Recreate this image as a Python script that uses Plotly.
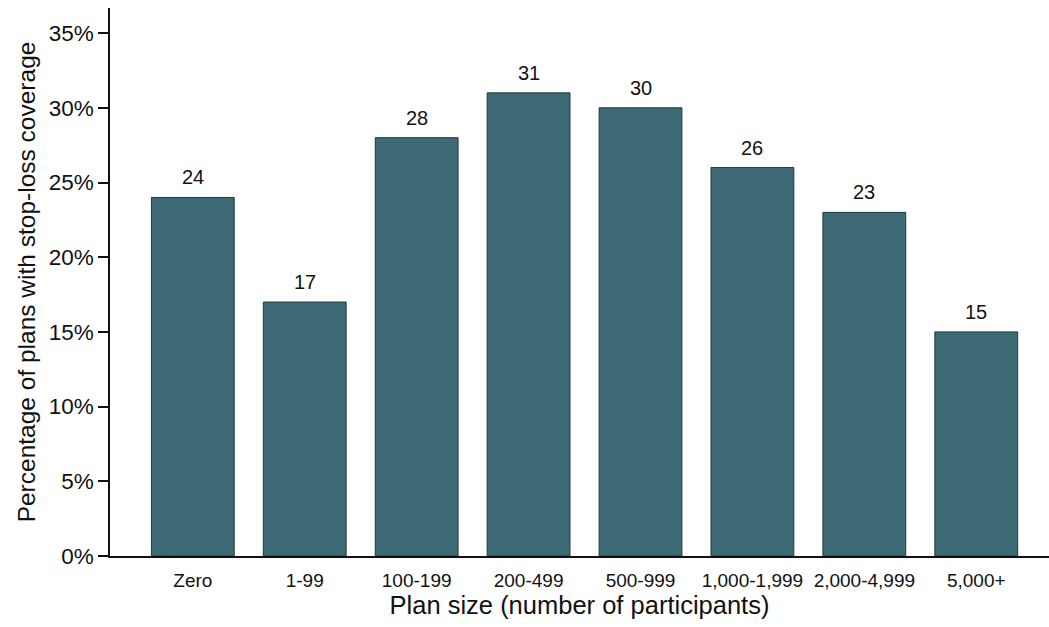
import plotly.graph_objects as go

# Share of self-insured plans with stop-loss coverage, by plan size
categories = ["Zero", "1-99", "100-199", "200-499", "500-999",
              "1,000-1,999", "2,000-4,999", "5,000+"]
pct_with_stop_loss = [24, 17, 28, 31, 30, 26, 23, 15]

y_tick_vals = [0, 5, 10, 15, 20, 25, 30, 35]
y_tick_text = ["0%", "5%", "10%", "15%", "20%", "25%", "30%", "35%"]

FONT = "Arial, 'Liberation Sans', sans-serif"
BAR_COLOR = "#3e6a75"
INK = "#111111"

fig = go.Figure(
    go.Bar(
        x=categories,
        y=pct_with_stop_loss,
        marker=dict(color=BAR_COLOR, line=dict(color="#1e3a41", width=1)),
        hoverinfo="skip",
    )
)

# Value labels above each bar
for cat, val in zip(categories, pct_with_stop_loss):
    fig.add_annotation(
        x=cat, y=val, text=f"{val:g}", showarrow=False,
        yanchor="bottom", yshift=7,
        font=dict(family=FONT, size=20, color=INK),
    )

fig.update_layout(
    width=1049, height=627,
    margin=dict(l=110, r=0, t=8, b=71),
    paper_bgcolor="white", plot_bgcolor="white",
    bargap=0.26,
    showlegend=False,
    font=dict(family=FONT, color=INK),
)

fig.update_xaxes(
    type="category",
    range=[-0.74, 7.65],
    showline=True, linecolor=INK, linewidth=1.5,
    ticks="", ticklabelstandoff=6,
    tickfont=dict(family=FONT, size=19, color=INK),
    showgrid=False, zeroline=False,
    title=dict(text="Plan size (number of participants)",
               font=dict(family=FONT, size=25.5, color=INK), standoff=2),
)

fig.update_yaxes(
    range=[0, 36.68],
    tickmode="array", tickvals=y_tick_vals, ticktext=y_tick_text,
    showline=True, linecolor=INK, linewidth=1.5,
    ticks="outside", ticklen=10, tickwidth=1.5, tickcolor=INK,
    tickfont=dict(family=FONT, size=22.5, color=INK),
    showgrid=False, zeroline=False,
    title=dict(text="Percentage of plans with stop-loss coverage",
               font=dict(family=FONT, size=24.5, color=INK), standoff=6),
)

fig.write_html("out.html")
